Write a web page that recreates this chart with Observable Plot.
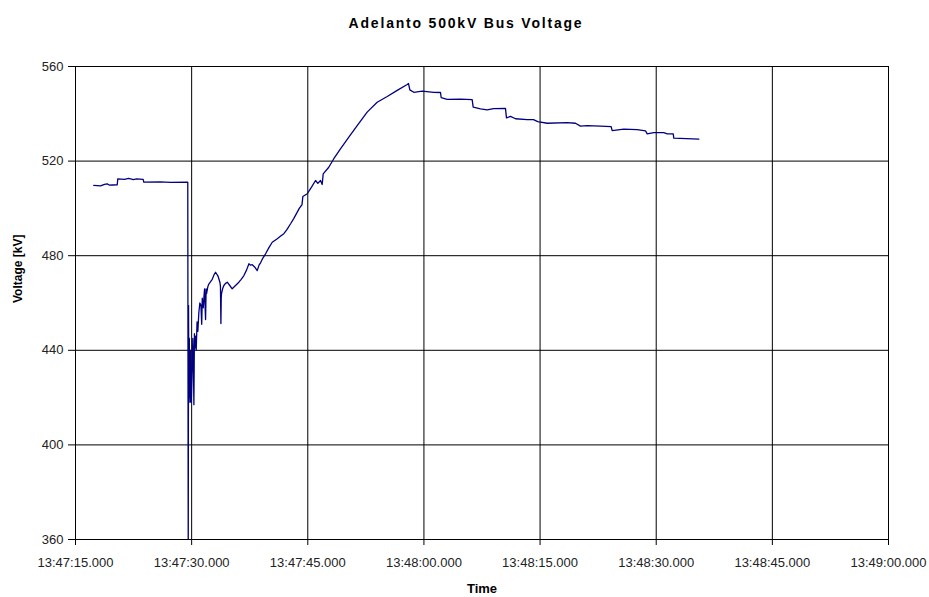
<!DOCTYPE html>
<html>
<head>
<meta charset="utf-8">
<script src="https://cdn.jsdelivr.net/npm/d3@7"></script>
<script src="https://cdn.jsdelivr.net/npm/@observablehq/plot@0.6"></script>
<style>
  html, body { margin: 0; padding: 0; background: white; }
  .chart-title text { letter-spacing: 1.8px; }
</style>
</head>
<body>
<div id="chart"></div>
<script>
// Seconds after 13:47:00
const seconds = [
  17.36, 18.23, 18.75, 19.09, 19.39, 19.74, 20.39, 20.46, 21.33, 21.85, 22.49, 22.88, 23.74, 23.82, 25.98, 27.27, 29.50,
  29.56, 29.60, 29.64, 29.70, 29.78, 29.86, 29.95, 30.07, 30.15, 30.22, 30.29, 30.36, 30.42, 30.50, 30.59, 30.70, 30.80,
  30.93, 31.06, 31.20, 31.30, 31.37, 31.50, 31.60, 31.67, 31.75, 31.80, 31.87, 31.93, 32.10, 32.22, 32.45, 32.66, 32.90,
  33.09, 33.39, 33.65, 33.72, 33.78, 33.82, 33.86, 34.00, 34.16, 34.35, 34.60, 34.90, 35.24, 35.70, 36.10, 36.40, 36.75,
  37.10, 37.40, 37.60, 37.83, 38.20, 38.47, 38.70, 38.90, 39.20, 39.55, 40.00, 40.41, 41.06, 41.50, 41.91, 42.30, 42.78,
  43.20, 43.64, 43.90, 44.07, 44.25, 44.36, 44.93, 45.48, 46.00, 46.30, 46.64, 46.86, 46.99, 47.71, 48.36, 49.22, 50.30,
  51.38, 52.67, 53.96, 55.26, 56.55, 57.84, 58.01, 58.18, 58.69, 59.78, 61.27, 62.14, 62.23, 63.00, 64.72, 66.23, 66.36,
  67.31, 68.17, 68.98, 70.53, 70.66, 71.18, 71.83, 73.34, 74.15, 74.70, 75.92, 78.50, 79.57, 80.22, 81.09, 82.80, 84.18,
  84.31, 85.81, 87.54, 88.62, 88.84, 89.69, 90.98, 91.42, 92.20, 92.27, 95.50
];
const voltage = [
  509.7, 509.5, 510.2, 510.4, 509.8, 509.9, 510.0, 512.5, 512.3, 512.7, 512.2, 512.5, 512.3, 511.1, 511.2, 511.0, 511.1,
  352.0, 459.0, 420.0, 445.0, 418.0, 440.0, 418.0, 432.0, 445.0, 436.0, 417.0, 447.0, 441.0, 446.0, 440.0, 452.0, 448.0,
  456.0, 460.0, 459.0, 451.0, 462.0, 458.0, 463.0, 466.0, 457.0, 453.0, 466.0, 464.0, 467.0, 468.0, 469.0, 470.0, 472.0,
  473.0, 471.5, 468.8, 467.0, 451.3, 462.0, 464.0, 466.0, 467.4, 468.2, 468.8, 467.5, 466.0, 467.5, 468.8, 470.0, 471.6,
  474.0, 476.6, 476.0, 476.2, 475.0, 473.7, 476.0, 477.0, 479.0, 480.8, 483.5, 485.7, 487.2, 488.3, 489.3, 491.0, 493.5,
  495.8, 498.4, 500.0, 500.8, 501.5, 505.0, 506.2, 509.0, 511.8, 510.6, 511.8, 510.1, 514.6, 517.4, 521.0, 525.2, 530.1,
  535.0, 540.7, 544.9, 547.3, 549.9, 552.4, 552.8, 550.1, 549.1, 549.6, 549.1, 549.0, 546.8, 546.1, 546.2, 546.0, 542.8,
  542.1, 541.7, 542.2, 542.3, 538.3, 538.9, 537.9, 537.5, 537.5, 536.7, 536.0, 536.3, 536.0, 534.8, 535.0, 534.8, 534.6,
  532.9, 533.5, 533.3, 532.8, 531.5, 532.0, 532.0, 531.5, 531.5, 529.7, 529.3
];
const xTickSeconds = [15, 30, 45, 60, 75, 90, 105, 120];
const yTicks = [360, 400, 440, 480, 520, 560];
const titleText = "Adelanto 500kV Bus Voltage";
const xLabel = "Time";
const yLabel = "Voltage [kV]";

const base = Date.UTC(2008, 0, 1, 13, 47, 0);
const toDate = s => new Date(base + Math.round(s * 1000));
const data = seconds.map((s, i) => ({time: toDate(s), v: voltage[i]}));
const xTicks = xTickSeconds.map(toDate);
const fmt = d3.utcFormat("%H:%M:%S.%L");

const chart = Plot.plot({
  width: 929,
  height: 597,
  marginLeft: 75,
  marginRight: 41,
  marginTop: 66,
  marginBottom: 58,
  style: {fontFamily: "'Liberation Sans', Arial, sans-serif", fontSize: "13px", background: "white", color: "black"},
  x: {type: "utc", domain: [xTicks[0], xTicks[xTicks.length - 1]]},
  y: {domain: [360, 560]},
  marks: [
    Plot.gridX(xTicks, {stroke: "black", strokeOpacity: 1, strokeWidth: 1}),
    Plot.gridY(yTicks, {stroke: "black", strokeOpacity: 1, strokeWidth: 1}),
    Plot.frame({stroke: "black", strokeWidth: 1}),
    Plot.axisX(xTicks, {tickFormat: fmt, tickSize: 6, tickPadding: 12, label: null, fontSize: 13, fill: "#222"}),
    Plot.axisY(yTicks, {tickSize: 7, tickPadding: 5, label: null, fontSize: 13, fill: "#222"}),
    Plot.line(data, {x: "time", y: "v", stroke: "#000080", strokeWidth: 1.3, clip: true}),
    Plot.text([titleText], {frameAnchor: "top", dy: -48, dx: -16, fontWeight: "bold", fontSize: 14, fill: "black", className: "chart-title"}),
    Plot.text([xLabel], {frameAnchor: "bottom", dy: 53, fontWeight: "bold", fontSize: 13, fill: "black"}),
    Plot.text([yLabel], {frameAnchor: "left", dx: -57, rotate: -90, fontWeight: "bold", fontSize: 12, fill: "black"})
  ]
});
document.getElementById("chart").appendChild(chart);
</script>
</body>
</html>
